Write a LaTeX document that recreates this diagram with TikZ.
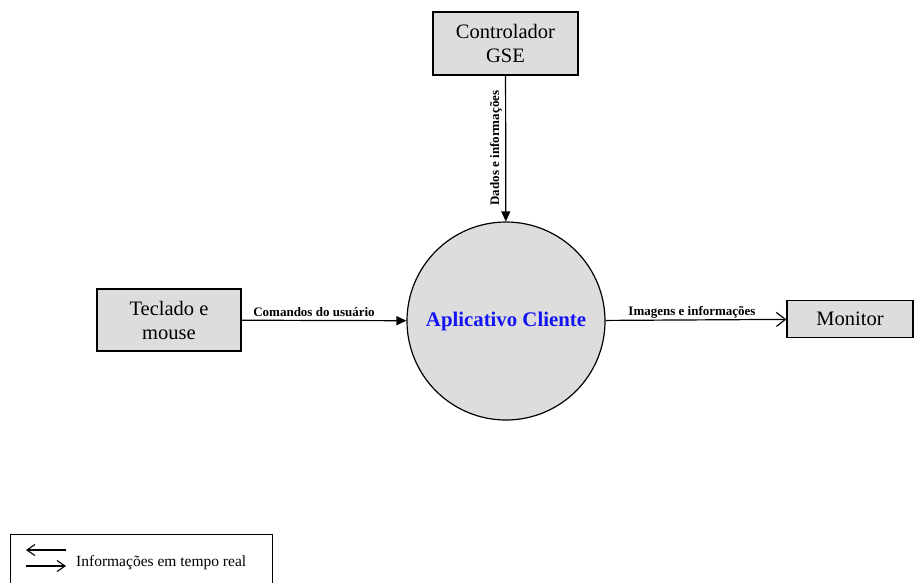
\documentclass[tikz,border=0pt]{standalone}
\usepackage{fontspec}
\setmainfont{Liberation Serif}
\usetikzlibrary{arrows.meta}
\definecolor{boxgray}{HTML}{DDDDDD}
\definecolor{appblue}{RGB}{20,20,245}
\tikzset{
  entity/.style={draw=black, fill=boxgray, line width=1.3pt, align=center, inner sep=0pt,
    font=\fontsize{20.5}{24}\selectfont},
  proc/.style={draw=black, fill=boxgray, line width=1.2pt, circle, inner sep=0pt,
    font=\fontsize{20.8}{24}\selectfont\bfseries, text=appblue},
  flow/.style={line width=1.2pt, -{Triangle[length=10pt,width=9pt]}},
  outflow/.style={line width=1.2pt, -{Straight Barb[length=9pt,width=14pt,line width=1.2pt]}},
  flowlabel/.style={font=\fontsize{13}{15}\selectfont\bfseries, inner sep=0pt},
  legendtext/.style={font=\fontsize{15.5}{18}\selectfont, inner sep=0pt},
}
\begin{document}
\begin{tikzpicture}[x=1pt,y=-1pt]
\useasboundingbox (0,0) rectangle (915,582);

\node[entity, minimum width=145pt, minimum height=63pt] (gse) at (505.5,43.5) {Controlador\\GSE};
\node[entity, minimum width=144pt, minimum height=62pt] (kb) at (169,320) {Teclado e\\mouse};
\node[entity, minimum width=126pt, minimum height=37pt] (mon) at (850,319) {Monitor};
\node[proc, minimum size=198pt] (app) at (506,321) {Aplicativo Cliente};

\draw[flow] (gse) -- (app);
\draw[flow] (kb) -- (app);
\draw[outflow] (app) -- (mon);

\node[flowlabel, anchor=base] (lkb) at (314,316) {Comandos do usuário};
\node[flowlabel, anchor=base] (lmon) at (692,315) {Imagens e informações};
\node[flowlabel, anchor=base, rotate=90] (lgse) at (499,148) {Dados e informações};

% legend
\node[draw=black, line width=1pt, minimum width=262pt, minimum height=66pt, inner sep=0pt] (legend) at (141,567) {};
\coordinate (la1) at (66,550);
\coordinate (la2) at (26,550);
\coordinate (lb1) at (26,566);
\coordinate (lb2) at (66,566);
\draw[line width=1.1pt, -{Straight Barb[length=8pt,width=11pt,line width=1.1pt]}] (la1) -- (la2);
\draw[line width=1.1pt, -{Straight Barb[length=8pt,width=11pt,line width=1.1pt]}] (lb1) -- (lb2);
\node[legendtext, anchor=base west] (ltext) at (76,566) {Informações em tempo real};
\end{tikzpicture}
\end{document}
